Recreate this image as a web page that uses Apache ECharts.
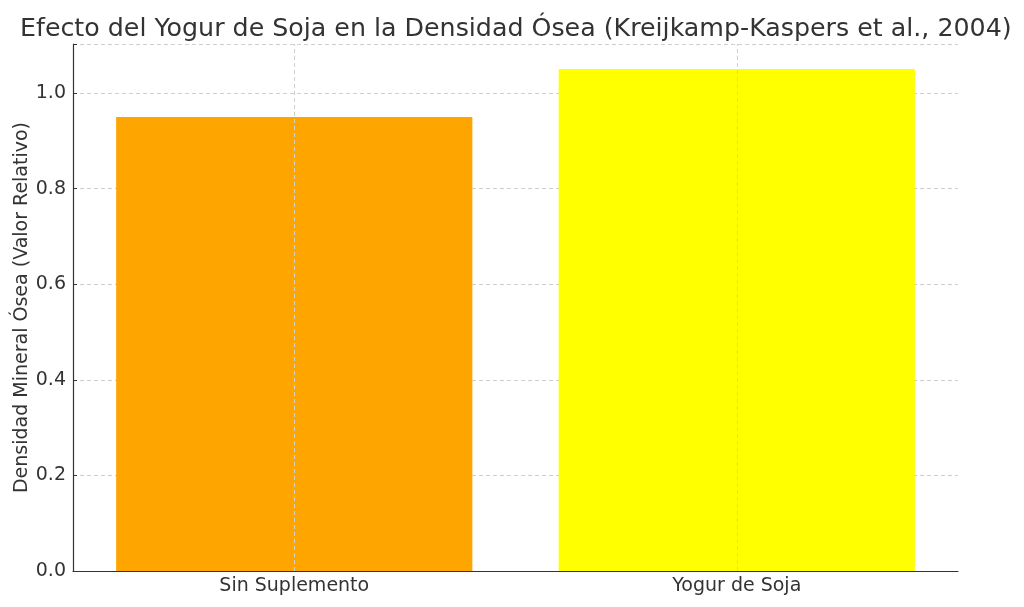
<!DOCTYPE html>
<html>
<head>
<meta charset="utf-8">
<script src="https://cdn.jsdelivr.net/npm/echarts@6/dist/echarts.min.js"></script>
<style>
  html, body { margin: 0; padding: 0; background: #fff; }
  #chart { width: 1024px; height: 607px; }
</style>
</head>
<body>
<div id="chart"></div>
<script>
const categories = ["Sin Suplemento", "Yogur de Soja"];
const densityValues = [0.95, 1.05];
const barColors = ["#ffa500", "#ffff00"];
const yTicks = [0.0, 0.2, 0.4, 0.6, 0.8, 1.0];

const chart = echarts.init(document.getElementById("chart"));
const font = "DejaVu Sans";
const gridLine = { type: [4, 3], color: "#cfcfcf", width: 1 };

const option = {
  animation: false,
  textStyle: { fontFamily: font },
  title: {
    text: "Efecto del Yogur de Soja en la Densidad Ósea (Kreijkamp-Kaspers et al., 2004)",
    left: 15,
    top: 12,
    textStyle: { fontFamily: font, fontSize: 25.3, fontWeight: "normal", color: "#333" },
  },
  grid: { left: 73, right: 66, top: 44, bottom: 36 },
  xAxis: {
    type: "category",
    data: categories,
    axisLine: { lineStyle: { color: "#333", width: 1.2 } },
    axisTick: { alignWithLabel: true, inside: true, length: 4, lineStyle: { color: "#333" } },
    axisLabel: { fontSize: 19, color: "#333", margin: 6 },
    splitLine: { show: false },
  },
  yAxis: {
    type: "value",
    min: 0,
    max: 1.1025,
    interval: 0.2,
    name: "Densidad Mineral Ósea (Valor Relativo)",
    nameLocation: "middle",
    nameGap: 41,
    nameMoveOverlap: false,
    nameTextStyle: { fontSize: 19, color: "#333" },
    axisLine: { show: true, lineStyle: { color: "#333", width: 1.2 } },
    axisTick: { show: true, inside: true, length: 4, lineStyle: { color: "#333" } },
    axisLabel: {
      fontSize: 19,
      color: "#333",
      margin: 7,
      formatter: (v) => (yTicks.some((t) => Math.abs(t - v) < 1e-9) ? v.toFixed(1) : ""),
    },
    splitLine: { show: true, lineStyle: gridLine },
  },
  series: [
    {
      type: "bar",
      barWidth: "80.5%",
      data: densityValues.map((v, i) => ({ value: v, itemStyle: { color: barColors[i] } })),
      markLine: {
        silent: true,
        symbol: "none",
        label: { show: false },
        lineStyle: gridLine,
        data: categories.map((c) => ({ xAxis: c })),
      },
      z: 2,
    },
  ],
};

chart.setOption(option);
</script>
</body>
</html>
